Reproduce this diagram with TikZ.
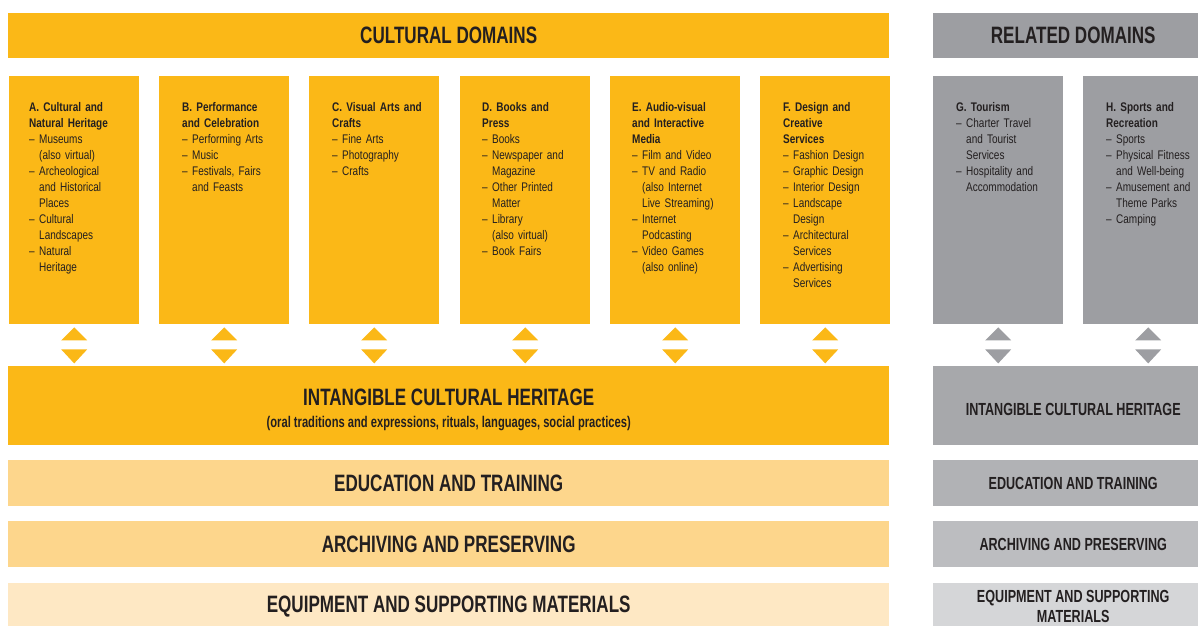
\documentclass[tikz,border=0pt]{standalone}
\usepackage{fontspec}
\setmainfont{Liberation Sans}[FakeStretch=0.8]
\newfontfamily\headfont{Liberation Sans}[FakeStretch=0.72]
\usetikzlibrary{positioning}

\definecolor{ink}{HTML}{231F20}
\definecolor{orangeA}{HTML}{FBB817}
\definecolor{orangeB}{HTML}{FDD68C}
\definecolor{orangeC}{HTML}{FEE8C4}
\definecolor{grayA}{HTML}{9D9EA2}
\definecolor{grayB}{HTML}{A7A8AB}
\definecolor{grayC}{HTML}{B1B2B5}
\definecolor{grayD}{HTML}{BCBDC0}
\definecolor{grayE}{HTML}{D5D6D8}

% one dashed entry with hanging indent
\newcommand{\itm}[1]{\par\noindent\hangindent=10pt\hangafter=1\makebox[10pt][l]{\textendash}#1\par}

\tikzset{
  band/.style={inner sep=0pt, anchor=north west, text=ink,
    font=\headfont\bfseries\fontsize{23.7}{28}\selectfont},
  smallband/.style={band, align=center,
    font=\headfont\bfseries\fontsize{17.5}{20}\selectfont},
  colbox/.style={fill=#1, minimum width=130pt, minimum height=248pt,
    inner sep=0pt, anchor=north west},
  coltext/.style={inner sep=0pt, text width=118pt, align=left, text=ink,
    font=\fontsize{12.5}{16}\selectfont},
}

\begin{document}
\begin{tikzpicture}[x=1pt, y=-1pt]
			\useasboundingbox (0,0) rectangle (1198,625);
			\clip (0,0) rectangle (1198,625);
			% headers
			\node[band, fill=orangeA, minimum width=881pt, minimum height=45pt] (cult) at (8,13) {CULTURAL DOMAINS};
			\node[band, fill=grayA, minimum width=280pt, minimum height=45pt] (rel) at (933,13) {RELATED DOMAINS};
			% domain columns
			\node[colbox=orangeA] (colA) at (9,76) {};
			\node[colbox=orangeA] (colB) at (159,76) {};
			\node[colbox=orangeA] (colC) at (309,76) {};
			\node[colbox=orangeA] (colD) at (460,76) {};
			\node[colbox=orangeA] (colE) at (610,76) {};
			\node[colbox=orangeA] (colF) at (760,76) {};
			\node[colbox=grayA] (colG) at (933,76) {};
			\node[colbox=grayA] (colH) at (1083,76) {};
			\node[coltext, below right=26pt and 20pt of colA.north west] (txtA)
			{\textbf{A. Cultural and\newline Natural Heritage}\itm{Museums\newline(also virtual)}\itm{Archeological\newline and Historical\newline Places}\itm{Cultural\newline Landscapes}\itm{Natural\newline Heritage}};
			\node[coltext, below right=26pt and 23pt of colB.north west] (txtB)
			{\textbf{B. Performance\newline and Celebration}\itm{Performing Arts}\itm{Music}\itm{Festivals, Fairs\newline and Feasts}};
			\node[coltext, below right=26pt and 23pt of colC.north west] (txtC)
			{\textbf{C. Visual Arts and\newline Crafts}\itm{Fine Arts}\itm{Photography}\itm{Crafts}};
			\node[coltext, below right=26pt and 22pt of colD.north west] (txtD)
			{\textbf{D. Books and\newline Press}\itm{Books}\itm{Newspaper and\newline Magazine}\itm{Other Printed\newline Matter}\itm{Library\newline(also virtual)}\itm{Book Fairs}};
			\node[coltext, below right=26pt and 22pt of colE.north west] (txtE)
			{\textbf{E. Audio-visual\newline and Interactive\newline Media}\itm{Film and Video}\itm{TV and Radio\newline(also Internet\newline Live Streaming)}\itm{Internet\newline Podcasting}\itm{Video Games\newline(also online)}};
			\node[coltext, below right=26pt and 23pt of colF.north west] (txtF)
			{\textbf{F. Design and\newline Creative\newline Services}\itm{Fashion Design}\itm{Graphic Design}\itm{Interior Design}\itm{Landscape\newline Design}\itm{Architectural\newline Services}\itm{Advertising\newline Services}};
			\node[coltext, below right=26pt and 23pt of colG.north west] (txtG)
			{\textbf{G. Tourism}\itm{Charter Travel\newline and Tourist\newline Services}\itm{Hospitality and\newline Accommodation}};
			\node[coltext, below right=26pt and 23pt of colH.north west] (txtH)
			{\textbf{H. Sports and\newline Recreation}\itm{Sports}\itm{Physical Fitness\newline and Well-being}\itm{Amusement and\newline Theme Parks}\itm{Camping}};
			% up and down marks under each column
			\foreach \c/\col in {A/orangeA,B/orangeA,C/orangeA,D/orangeA,E/orangeA,F/orangeA,G/grayA,H/grayA}{
				\fill[\col] ([xshift=-13pt,yshift=-16pt]col\c.south) -- ++(26pt,0pt) -- ++(-13pt,13pt) -- cycle;
				\fill[\col] ([xshift=-13pt,yshift=-25pt]col\c.south) -- ++(26pt,0pt) -- ++(-13pt,-14pt) -- cycle;
			}
			% intangible cultural heritage
			\node[band, fill=orangeA, minimum width=881pt, minimum height=79pt] (ich) at (8,366) {};
			\node[band, anchor=base] (ichT) at ([yshift=0.5pt]ich.center) {INTANGIBLE CULTURAL HERITAGE};
			\node[band, anchor=base, font=\headfont\bfseries\fontsize{15.5}{18}\selectfont] (ichS) at ([yshift=-21.5pt]ich.center)
			{(oral traditions and expressions, rituals, languages, social practices)};
			\node[band, fill=grayB, minimum width=280pt, minimum height=79pt] (ichR) at (933,366) {};
			\node[smallband, anchor=base] (ichRT) at ([yshift=-9.5pt]ichR.center) {INTANGIBLE CULTURAL HERITAGE};
			% lower bands
			\node[band, fill=orangeB, minimum width=881pt, minimum height=46pt] (edu) at (8,460) {EDUCATION AND TRAINING};
			\node[smallband, fill=grayC, minimum width=280pt, minimum height=46pt] (eduR) at (933,460) {EDUCATION AND TRAINING};
			\node[band, fill=orangeB, minimum width=881pt, minimum height=46pt] (arc) at (8,521) {ARCHIVING AND PRESERVING};
			\node[smallband, fill=grayD, minimum width=280pt, minimum height=46pt] (arcR) at (933,521) {ARCHIVING AND PRESERVING};
			\node[band, fill=orangeC, minimum width=881pt, minimum height=46pt] (equ) at (8,583) {EQUIPMENT AND SUPPORTING MATERIALS};
			\node[smallband, fill=grayE, minimum width=280pt, minimum height=46pt] (equR) at (933,583) {EQUIPMENT AND SUPPORTING\\MATERIALS};
\end{tikzpicture}
\end{document}
